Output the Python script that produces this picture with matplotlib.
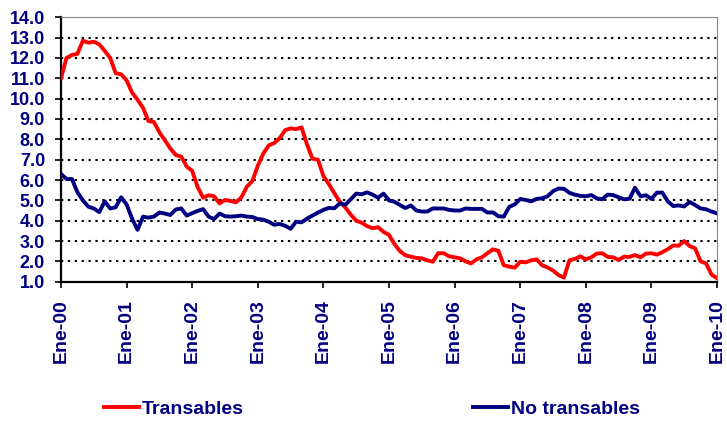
import matplotlib
matplotlib.use("Agg")
import matplotlib.pyplot as plt
from matplotlib.lines import Line2D

plt.rcParams['font.family'] = ['Liberation Sans', 'DejaVu Sans']
plt.rcParams['font.weight'] = 'bold'

years = ["Ene-00", "Ene-01", "Ene-02", "Ene-03", "Ene-04", "Ene-05",
         "Ene-06", "Ene-07", "Ene-08", "Ene-09", "Ene-10"]

transables = [
    11.0, 12.0, 12.15, 12.2, 12.85, 12.75, 12.8, 12.67, 12.35, 12.0, 11.25, 11.2,
    10.9, 10.3, 9.95, 9.55, 8.9, 8.85, 8.35, 7.95, 7.55, 7.23, 7.15, 6.66,
    6.45, 5.65, 5.13, 5.25, 5.2, 4.85, 5.02, 4.97, 4.9, 5.15, 5.67, 5.95,
    6.7, 7.3, 7.7, 7.82, 8.05, 8.45, 8.54, 8.5, 8.59, 7.75, 7.05, 7.0,
    6.2, 5.8, 5.35, 4.93, 4.65, 4.3, 4.0, 3.9, 3.73, 3.63, 3.68, 3.45,
    3.3, 2.85, 2.5, 2.3, 2.23, 2.17, 2.15, 2.05, 1.98, 2.4, 2.4, 2.25,
    2.2, 2.15, 2.0, 1.9, 2.1, 2.2, 2.4, 2.59, 2.52, 1.81, 1.74, 1.69,
    1.98, 1.95, 2.05, 2.1, 1.81, 1.7, 1.55, 1.33, 1.2, 2.05, 2.12, 2.25,
    2.1, 2.2, 2.38, 2.4, 2.22, 2.2, 2.07, 2.23, 2.22, 2.31, 2.2, 2.38,
    2.4, 2.33, 2.45, 2.6, 2.78, 2.77, 3.0, 2.75, 2.64, 2.0, 1.9, 1.35,
    1.17,
]

no_transables = [
    6.3, 6.05, 6.05, 5.4, 5.0, 4.69, 4.6, 4.42, 4.95, 4.6, 4.66, 5.15,
    4.8, 4.1, 3.55, 4.2, 4.15, 4.2, 4.4, 4.35, 4.28, 4.55, 4.6, 4.25,
    4.37, 4.48, 4.57, 4.2, 4.08, 4.35, 4.22, 4.2, 4.22, 4.25, 4.2, 4.18,
    4.08, 4.05, 3.95, 3.8, 3.84, 3.75, 3.6, 3.95, 3.92, 4.1, 4.25, 4.4,
    4.53, 4.63, 4.61, 4.85, 4.78, 5.05, 5.33, 5.3, 5.39, 5.28, 5.13, 5.33,
    5.0, 4.93, 4.77, 4.62, 4.75, 4.5, 4.45, 4.45, 4.6, 4.6, 4.6, 4.53,
    4.5, 4.5, 4.6, 4.58, 4.58, 4.58, 4.4, 4.41, 4.22, 4.2, 4.68, 4.8,
    5.07, 5.02, 4.95, 5.07, 5.1, 5.2, 5.45, 5.58, 5.57, 5.37, 5.28, 5.22,
    5.2, 5.26, 5.1, 5.05, 5.28, 5.26, 5.15, 5.05, 5.08, 5.62, 5.2, 5.25,
    5.07, 5.38, 5.38, 4.95, 4.72, 4.75, 4.7, 4.92, 4.77, 4.6, 4.56, 4.45,
    4.36,
]

y_ticks = [1.0, 2.0, 3.0, 4.0, 5.0, 6.0, 7.0, 8.0, 9.0, 10.0, 11.0, 12.0, 13.0, 14.0]

navy = '#000080'
red = '#FF0000'

fig = plt.figure(figsize=(7.27, 4.21), dpi=100)
ax = fig.add_axes([61 / 727, 1 - 281.7 / 421, (717 - 61) / 727, (281.7 - 17.3) / 421])

months = list(range(len(transables)))
ax.plot(months, transables, color=red, lw=2.8, solid_joinstyle='round', zorder=3, label='Transables')
ax.plot(months, no_transables, color=navy, lw=2.8, solid_joinstyle='round', zorder=3, label='No transables')

ax.set_xlim(0, 120)
ax.set_ylim(1.0, 14.0)
ax.set_yticks(y_ticks)
ax.set_yticklabels([f"{v:.1f}" for v in y_ticks])
ax.set_xticks(list(range(0, 121, 12)))
ax.set_xticklabels(years, rotation=90)

for v in y_ticks[1:]:
    ax.axhline(v, color='black', lw=1.5, linestyle=(0, (1.1, 2.2)), zorder=1)

ax.tick_params(axis='y', colors='black', labelcolor=navy, labelsize=13, length=4.5, width=1.2, pad=7)
ax.tick_params(axis='x', colors='black', labelcolor=navy, labelsize=14, length=4.5, width=1.2, pad=8)
for lbl in ax.get_xticklabels() + ax.get_yticklabels():
    lbl.set_fontweight('bold')

for s in ['left', 'bottom']:
    ax.spines[s].set_linewidth(1.6)
    ax.spines[s].set_color('black')
for s in ['top', 'right']:
    ax.spines[s].set_linewidth(0.8)
    ax.spines[s].set_color('#888888')

handles = [Line2D([], [], color=red, lw=2.8), Line2D([], [], color=navy, lw=2.8)]
fig.legend(handles, ['Transables', 'No transables'], loc='center left',
           bbox_to_anchor=(104 / 727, 1 - 409 / 421), ncol=2, frameon=False,
           prop={'size': 14, 'weight': 'bold'}, labelcolor=navy,
           handlelength=1.8, handletextpad=0.15, columnspacing=11.8,
           borderpad=0, borderaxespad=0)

fig.savefig('out.png', dpi=100)
